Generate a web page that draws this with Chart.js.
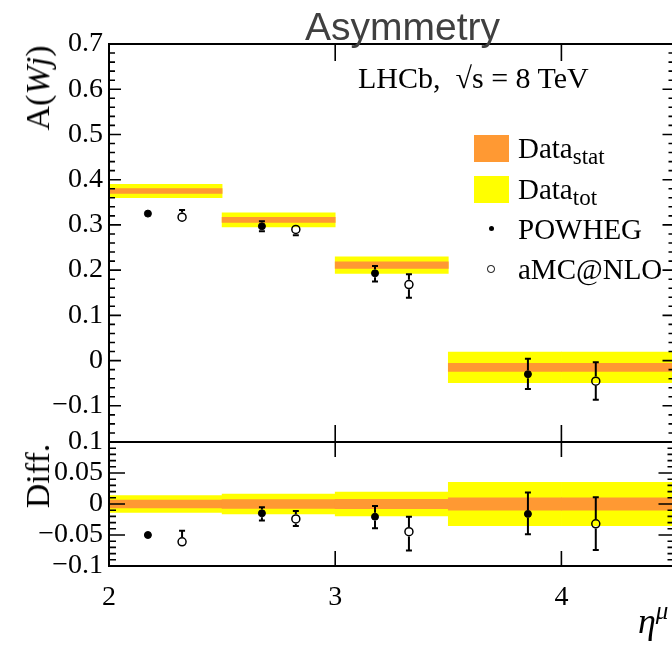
<!DOCTYPE html>
<html><head><meta charset="utf-8">
<script src="https://cdn.jsdelivr.net/npm/chart.js@4/dist/chart.umd.min.js"></script>
<style>
html,body{margin:0;padding:0;background:#fff;overflow:hidden;width:672px;height:645px;}
#wrap{position:relative;width:672px;height:645px;overflow:hidden;background:#fff;}
canvas{position:absolute;left:0;top:0;}
.t{position:absolute;white-space:nowrap;line-height:1;color:#000;font-family:"Liberation Serif","Times New Roman",serif;}
.rot{transform:translate(-50%,-50%) rotate(-90deg);}
.sw{position:absolute;}
</style></head><body>
<div id="wrap">
<canvas id="c" width="680" height="645" style="width:680px;height:645px"></canvas>
<div class="t" id="title" style="font-family:'Liberation Sans',Arial,sans-serif;font-size:39px;color:#404040;left:305px;top:7px;">Asymmetry</div>
<div class="t rot" style="font-size:34px;left:38px;top:88px;">A(<i>Wj</i>)</div>
<div class="t rot" style="font-size:34px;left:38px;top:476px;">Diff.</div>
<div class="t" style="font-size:30px;left:358px;top:63px;">LHCb, &nbsp;√s = 8 TeV</div>
<div class="sw" style="left:474px;top:135px;width:35px;height:27px;background:#ff9933;"></div>
<div class="sw" style="left:474px;top:176px;width:35px;height:27px;background:#ffff00;"></div>
<div class="sw" style="left:488.5px;top:225.5px;width:5px;height:5px;border-radius:50%;background:#000;"></div>
<div class="sw" style="left:487px;top:265px;width:5.6px;height:5.6px;border-radius:50%;border:1.2px solid #000;"></div>
<div class="t" style="font-size:29px;left:518px;top:134px;">Data<span style="font-size:23px;position:relative;top:6px;">stat</span></div>
<div class="t" style="font-size:29px;left:518px;top:175px;">Data<span style="font-size:23px;position:relative;top:6px;">tot</span></div>
<div class="t" style="font-size:29px;left:518px;top:215px;">POWHEG</div>
<div class="t" style="font-size:29px;left:518px;top:255px;">aMC@NLO</div>
<div class="t" style="font-size:36px;font-style:italic;left:638px;top:603px;">η<span style="font-size:25px;position:relative;top:-14px;">μ</span></div>
</div>
<script>
// ---- data ----
const binEdges = [2, 2.5, 3, 3.5, 4.5];
// upper panel: measured asymmetry with stat / total uncertainty
const dataTop = [0.375, 0.311, 0.211, -0.015];
const statTop = [0.0052, 0.0055, 0.0074, 0.0089];
const totTop  = [0.0148, 0.0156, 0.0185, 0.034];
// lower panel: difference (data band centred on zero)
const dataDiff = [0, 0, 0, 0];
const statDiff = [0.0065, 0.0073, 0.0075, 0.010];
const totDiff  = [0.0137, 0.016, 0.0194, 0.035];
// POWHEG
const powhegX      = [2.172, 2.676, 3.176, 3.852];
const powhegTop    = [0.325, 0.297, 0.193, -0.030];
const powhegTopUp  = [0.004, 0.011, 0.016, 0.034];
const powhegTopDn  = [0.004, 0.011, 0.018, 0.033];
const powhegDiff   = [-0.050, -0.015, -0.0205, -0.016];
const powhegDiffUp = [0.004, 0.0097, 0.0172, 0.0344];
const powhegDiffDn = [0.004, 0.0118, 0.0188, 0.0328];
// aMC@NLO
const amcX      = [2.323, 2.826, 3.326, 4.152];
const amcTop    = [0.317, 0.290, 0.168, -0.0456];
const amcTopUp  = [0.016, 0.011, 0.023, 0.042];
const amcTopDn  = [0.006, 0.0126, 0.029, 0.041];
const amcDiff   = [-0.061, -0.024, -0.0446, -0.032];
const amcDiffUp = [0.0177, 0.0129, 0.024, 0.043];
const amcDiffDn = [0.008, 0.0113, 0.0306, 0.042];
// axis tick labels
const xTicks = [2, 3, 4];
const topTicks = [0.7, 0.6, 0.5, 0.4, 0.3, 0.2, 0.1, 0, -0.1];
const diffTicks = [0.1, 0.05, 0, -0.05, -0.1];

const X_MIN = 2, X_MAX = 4.5, TOP_MIN = -0.18, TOP_MAX = 0.7, DIFF_MIN = -0.1, DIFF_MAX = 0.1;

// split each bin into 0.5-wide floating bars
function band(centre, half) {
  const out = [];
  for (let i = 0; i < centre.length; i++) {
    const n = Math.round((binEdges[i + 1] - binEdges[i]) / 0.5);
    for (let k = 0; k < n; k++) {
      out.push({x: binEdges[i] + 0.25 + 0.5 * k, y: [centre[i] - half[i], centre[i] + half[i]]});
    }
  }
  return out;
}
const pts = (xs, ys) => xs.map((x, i) => ({x: x, y: ys[i]}));
const fmt = v => {
  const s = String(+Math.abs(v).toFixed(2));
  return v < 0 ? '\u2212' + s : s;
};

const ORANGE = '#ff9933', YELLOW = '#ffff00';
const barBase = {type: 'bar', grouped: false, barPercentage: 1, categoryPercentage: 1, borderWidth: 0};
const filled = {type: 'scatter', pointRadius: 3.5, pointBorderWidth: 1, pointBackgroundColor: '#000', pointBorderColor: '#000', showLine: false, order: 0};
const open = {type: 'scatter', pointRadius: 4, pointBorderWidth: 1.5, pointBackgroundColor: 'rgba(0,0,0,0)', pointBorderColor: '#000', showLine: false, order: 0};

const errorBars = {
  id: 'errorBars',
  afterDatasetsDraw(chart) {
    const ctx = chart.ctx;
    ctx.save();
    ctx.strokeStyle = '#000';
    ctx.lineWidth = 2;
    chart.data.datasets.forEach((ds, i) => {
      if (!ds.errUp) return;
      const meta = chart.getDatasetMeta(i);
      const ys = chart.scales[ds.yAxisID];
      const r = ds.pointRadius + ds.pointBorderWidth / 2;
      meta.data.forEach((el, j) => {
        const v = ds.data[j].y;
        const px = el.x, py = el.y;
        const up = ys.getPixelForValue(v + ds.errUp[j]);
        const dn = ys.getPixelForValue(v - ds.errDn[j]);
        ctx.beginPath();
        if (py - up > r + 0.5) {
          ctx.moveTo(px, py - r); ctx.lineTo(px, up);
          ctx.moveTo(px - 3, up); ctx.lineTo(px + 3, up);
        }
        if (dn - py > r + 0.5) {
          ctx.moveTo(px, py + r); ctx.lineTo(px, dn);
          ctx.moveTo(px - 3, dn); ctx.lineTo(px + 3, dn);
        }
        ctx.stroke();
      });
    });
    ctx.restore();
  }
};

const frame = {
  id: 'frame',
  afterDraw(chart) {
    const ctx = chart.ctx, xs = chart.scales.x;
    const L = xs.getPixelForValue(X_MIN), R = xs.getPixelForValue(X_MAX);
    ctx.save();
    ctx.strokeStyle = '#000';
    const panels = [
      {s: chart.scales.y, min: TOP_MIN, max: TOP_MAX, step: 0.02, every: 5, major: 12, minor: 6, xt: 17},
      {s: chart.scales.y2, min: DIFF_MIN, max: DIFF_MAX, step: 0.01, every: 5, major: 16, minor: 7, xt: 15}
    ];
    panels.forEach(p => {
      const T = p.s.getPixelForValue(p.max), B = p.s.getPixelForValue(p.min);
      ctx.lineWidth = 2;
      ctx.strokeRect(L, T, R - L, B - T);
      ctx.lineWidth = 1.6;
      ctx.beginPath();
      const k0 = Math.ceil(p.min / p.step - 1e-6), k1 = Math.floor(p.max / p.step + 1e-6);
      for (let k = k0; k <= k1; k++) {
        const y = p.s.getPixelForValue(k * p.step);
        const len = (k % p.every === 0) ? p.major : p.minor;
        ctx.moveTo(L, y); ctx.lineTo(L + len, y);
        ctx.moveTo(R, y); ctx.lineTo(R - len, y);
      }
      xTicks.forEach(v => {
        const x = xs.getPixelForValue(v);
        ctx.moveTo(x, T); ctx.lineTo(x, T + p.xt);
        ctx.moveTo(x, B); ctx.lineTo(x, B - p.xt);
      });
      ctx.stroke();
    });
    ctx.restore();
  }
};

const tickFont = {family: "'Liberation Serif','Times New Roman',serif", size: 28};

new Chart(document.getElementById('c'), {
  type: 'bar',
  data: {
    datasets: [
      Object.assign({}, filled, {label: 'POWHEG', data: pts(powhegX, powhegTop), yAxisID: 'y', errUp: powhegTopUp, errDn: powhegTopDn}),
      Object.assign({}, open, {label: 'aMC@NLO', data: pts(amcX, amcTop), yAxisID: 'y', errUp: amcTopUp, errDn: amcTopDn}),
      Object.assign({}, filled, {label: 'POWHEG diff', data: pts(powhegX, powhegDiff), yAxisID: 'y2', errUp: powhegDiffUp, errDn: powhegDiffDn}),
      Object.assign({}, open, {label: 'aMC@NLO diff', data: pts(amcX, amcDiff), yAxisID: 'y2', errUp: amcDiffUp, errDn: amcDiffDn}),
      Object.assign({}, barBase, {label: 'Data stat', data: band(dataTop, statTop), backgroundColor: ORANGE, yAxisID: 'y', order: 5}),
      Object.assign({}, barBase, {label: 'Data tot', data: band(dataTop, totTop), backgroundColor: YELLOW, yAxisID: 'y', order: 6}),
      Object.assign({}, barBase, {label: 'Diff stat', data: band(dataDiff, statDiff), backgroundColor: ORANGE, yAxisID: 'y2', order: 5}),
      Object.assign({}, barBase, {label: 'Diff tot', data: band(dataDiff, totDiff), backgroundColor: YELLOW, yAxisID: 'y2', order: 6})
    ]
  },
  options: {
    responsive: false,
    devicePixelRatio: 1,
    animation: false,
    events: [],
    layout: {padding: {top: 44, right: 5, left: 0, bottom: 0}},
    plugins: {legend: {display: false}, title: {display: false}, tooltip: {enabled: false}},
    scales: {
      x: {
        type: 'linear', min: X_MIN, max: X_MAX, offset: false, position: 'bottom',
        grid: {display: false, drawTicks: false}, border: {display: false},
        afterBuildTicks: s => { s.ticks = xTicks.map(v => ({value: v})); },
        afterFit: s => { s.height = 79; },
        ticks: {font: tickFont, color: '#000', padding: 15, autoSkip: false, maxRotation: 0, callback: v => fmt(v)}
      },
      y: {
        type: 'linear', position: 'left', stack: 'panels', stackWeight: 398, weight: 1,
        min: TOP_MIN, max: TOP_MAX, offset: false,
        grid: {display: false, drawTicks: false}, border: {display: false},
        afterBuildTicks: s => { s.ticks = topTicks.map(v => ({value: v})); },
        afterFit: s => { s.width = 109; },
        ticks: {font: tickFont, color: '#000', padding: 6, autoSkip: false, callback: v => fmt(v)}
      },
      y2: {
        type: 'linear', position: 'left', stack: 'panels', stackWeight: 124, weight: 0,
        min: DIFF_MIN, max: DIFF_MAX, offset: false,
        grid: {display: false, drawTicks: false}, border: {display: false},
        afterBuildTicks: s => { s.ticks = diffTicks.map(v => ({value: v})); },
        afterFit: s => { s.width = 109; },
        ticks: {font: tickFont, color: '#000', padding: 6, autoSkip: false, callback: v => fmt(v)}
      }
    }
  },
  plugins: [errorBars, frame]
});
</script>
</body></html>
